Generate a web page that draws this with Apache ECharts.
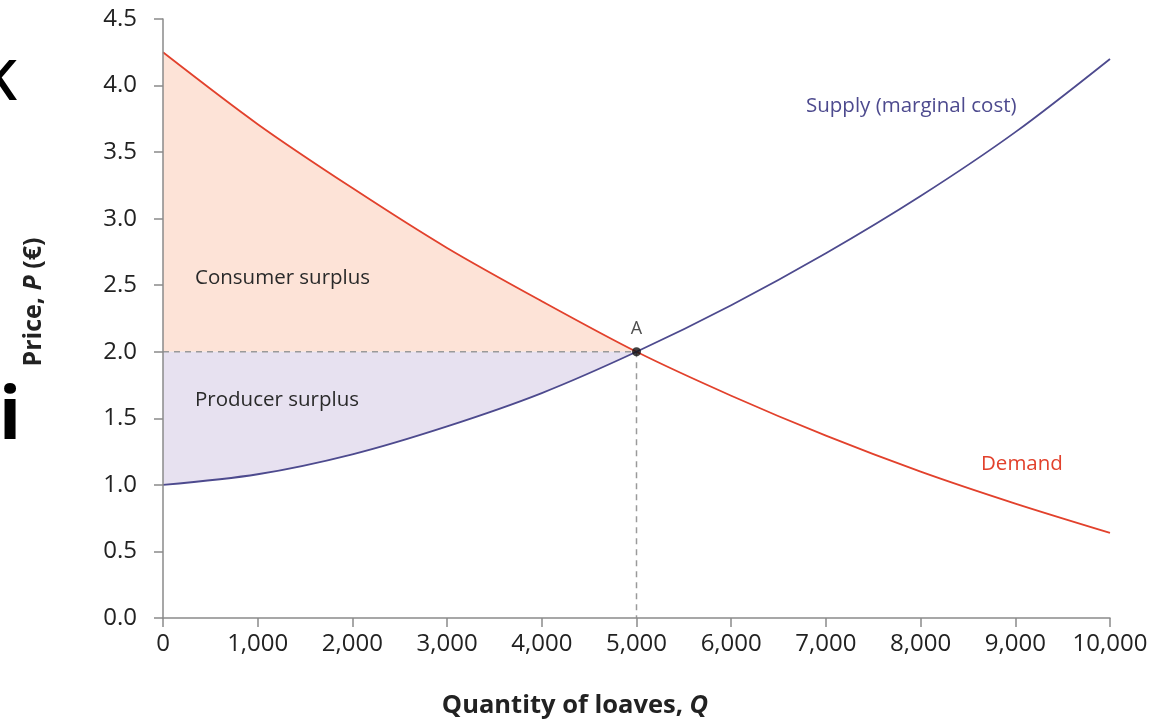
<!DOCTYPE html>
<html>
<head>
<meta charset="utf-8">
<script src="https://cdn.jsdelivr.net/npm/echarts@6/dist/echarts.min.js"></script>
<style>
  html, body { margin: 0; padding: 0; background: #fff; }
  #chart { width: 1160px; height: 721px; }
</style>
</head>
<body>
<div id="chart"></div>
<script>
// ============================================================
// 数据
// ============================================================
var quantities = [0, 1000, 2000, 3000, 4000, 5000, 6000, 7000, 8000, 9000, 10000];
var demandPrices = [4.25, 3.71, 3.23, 2.78, 2.38, 2.0, 1.67, 1.37, 1.10, 0.86, 0.64];
var supplyPrices = [1.0, 1.08, 1.23, 1.44, 1.69, 2.0, 2.35, 2.74, 3.17, 3.65, 4.2];
var equilibriumQ = 5000;
var equilibriumP = 2.0;
var yTicks = [0, 0.5, 1.0, 1.5, 2.0, 2.5, 3.0, 3.5, 4.0, 4.5];

var RED = '#e2412c';
var PURPLE = '#4d4a8e';
var FONT = '"Open Sans", "Noto Sans", sans-serif';

// ============================================================
// 组装序列
// ============================================================
function pairs(values) {
  return values.map(function(v, i) { return [quantities[i], v]; });
}

// 均衡点左侧的部分，用来画剩余面积
var nLeft = quantities.filter(function(q) { return q <= equilibriumQ; }).length;
var demandLeft = demandPrices.slice(0, nLeft);
var supplyLeft = supplyPrices.slice(0, nLeft);

var SMOOTH = 0.3;

var chart = echarts.init(document.getElementById('chart'));

chart.setOption({
  animation: false,
  grid: { left: 163, right: 50, top: 19, bottom: 103 },
  xAxis: {
    type: 'value',
    min: 0,
    max: 10000,
    interval: 1000,
    z: 10,
    splitLine: { show: false },
    axisLine: { lineStyle: { color: '#8a8a8a', width: 1.5 } },
    axisTick: { show: true, length: 9, lineStyle: { color: '#8a8a8a', width: 1.5 } },
    axisLabel: {
      margin: 14,
      fontSize: 24,
      color: '#222',
      fontFamily: FONT,
      formatter: function(v) { return v.toLocaleString('en-US'); }
    }
  },
  yAxis: {
    type: 'value',
    min: yTicks[0],
    max: yTicks[yTicks.length - 1],
    interval: 0.5,
    z: 10,
    splitLine: { show: false },
    axisLine: { show: true, lineStyle: { color: '#8a8a8a', width: 1.5 } },
    axisTick: { show: true, length: 9, lineStyle: { color: '#8a8a8a', width: 1.5 } },
    axisLabel: {
      margin: 26,
      fontSize: 24,
      color: '#222',
      fontFamily: FONT,
      formatter: function(v) { return v.toFixed(1); }
    }
  },
  series: [
    // 消费者剩余：需求曲线与均衡价格之间
    {
      type: 'line', data: pairs(demandLeft),
      smooth: SMOOTH, symbol: 'none', lineStyle: { opacity: 0 },
      areaStyle: { color: '#fde3d7', opacity: 1, origin: equilibriumP }, silent: true
    },
    // 生产者剩余：均衡价格与供给曲线之间
    {
      type: 'line', data: pairs(supplyLeft),
      smooth: SMOOTH, symbol: 'none', lineStyle: { opacity: 0 },
      areaStyle: { color: '#e7e1f0', opacity: 1, origin: equilibriumP }, silent: true
    },
    // 虚线参考线
    {
      type: 'line',
      data: [[0, equilibriumP], [equilibriumQ, equilibriumP], [equilibriumQ, 0]],
      symbol: 'none',
      lineStyle: { color: '#9a9a9a', width: 1.5, type: [6, 5] }
    },
    {
      name: 'Demand', type: 'line', data: pairs(demandPrices),
      smooth: SMOOTH, symbol: 'none', lineStyle: { color: RED, width: 1.8 }
    },
    {
      name: 'Supply', type: 'line', data: pairs(supplyPrices),
      smooth: SMOOTH, symbol: 'none', lineStyle: { color: PURPLE, width: 1.8 }
    },
    {
      type: 'scatter',
      data: [[equilibriumQ, equilibriumP]],
      symbolSize: 9,
      itemStyle: { color: '#111' },
      z: 5,
      label: {
        show: true, position: 'top', distance: 9,
        formatter: 'A', fontSize: 18, color: '#222', fontFamily: FONT
      }
    }
  ],
  graphic: [
    { type: 'text', z: 100, x: 195, y: 278, style: { text: 'Consumer surplus', fontSize: 20.5, fill: '#2a2a2a', fontFamily: FONT, verticalAlign: 'middle' } },
    { type: 'text', z: 100, x: 195, y: 400, style: { text: 'Producer surplus', fontSize: 20.5, fill: '#2a2a2a', fontFamily: FONT, verticalAlign: 'middle' } },
    { type: 'text', z: 100, x: 806, y: 106, style: { text: 'Supply (marginal cost)', fontSize: 20.5, fill: PURPLE, fontFamily: FONT, verticalAlign: 'middle' } },
    { type: 'text', z: 100, x: 981, y: 464, style: { text: 'Demand', fontSize: 20.5, fill: RED, fontFamily: FONT, verticalAlign: 'middle' } },
    {
      type: 'text', z: 100, x: 575, y: 706,
      style: {
        text: '{b|Quantity of loaves, }{bi|Q}',
        align: 'center', verticalAlign: 'middle',
        rich: {
          b: { fontSize: 25.5, fontWeight: 'bold', fill: '#222', fontFamily: FONT },
          bi: { fontSize: 25.5, fontWeight: 'bold', fontStyle: 'italic', fill: '#222', fontFamily: FONT }
        }
      }
    },
    {
      type: 'text', z: 100, x: 34, y: 302, rotation: Math.PI / 2,
      style: {
        text: '{b|Price, }{bi|P}{b| (€)}',
        align: 'center', verticalAlign: 'middle',
        rich: {
          b: { fontSize: 25, fontWeight: 'bold', fill: '#222', fontFamily: FONT },
          bi: { fontSize: 25, fontWeight: 'bold', fontStyle: 'italic', fill: '#222', fontFamily: FONT }
        }
      }
    },
    // 左侧被裁切的文字残片
    { type: 'text', z: 100, x: 17, y: 84, style: { text: 'K', fontSize: 56, fontWeight: 600, fill: '#000', fontFamily: FONT, align: 'right', verticalAlign: 'middle' } },
    { type: 'text', z: 100, x: 10, y: 418, style: { text: 'i', fontSize: 74, fontWeight: 'bold', fill: '#000', fontFamily: FONT, align: 'center', verticalAlign: 'middle' } }
  ]
});
</script>
</body>
</html>
